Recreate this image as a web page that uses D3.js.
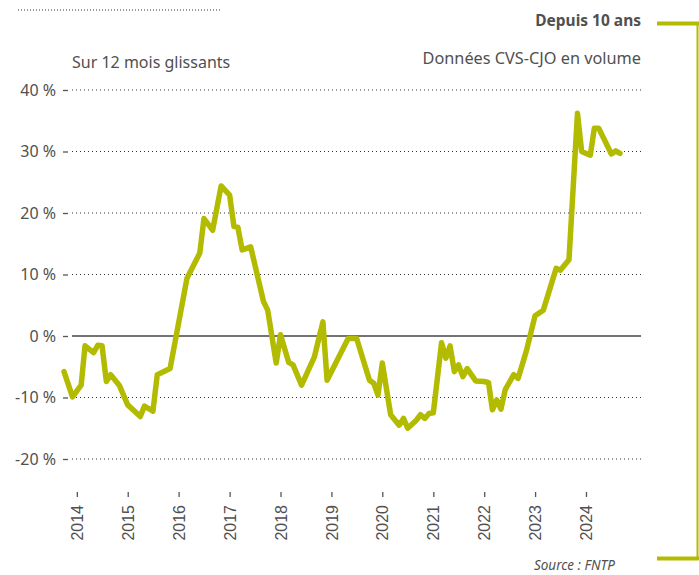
<!DOCTYPE html>
<html>
<head>
<meta charset="utf-8">
<script src="https://cdn.jsdelivr.net/npm/d3@7"></script>
<style>
  body { margin: 0; background: #fff; }
  svg text { font-family: "Noto Sans", sans-serif; fill: #505050; }
</style>
</head>
<body>
<script>
// monthly vertices of the 12-month rolling change (%)
var months = ['2013-10','2013-12','2014-02','2014-03','2014-05','2014-06','2014-07','2014-08','2014-09','2014-11',
  '2015-01','2015-04','2015-05','2015-07','2015-08','2015-11','2016-03','2016-06','2016-07','2016-09',
  '2016-11','2017-01','2017-02','2017-03','2017-04','2017-06','2017-09','2017-10','2017-12','2018-01',
  '2018-03','2018-04','2018-06','2018-09','2018-11','2018-12','2019-05','2019-07','2019-10','2019-11',
  '2019-12','2020-01','2020-03','2020-05','2020-06','2020-07','2020-09','2020-10','2020-11','2020-12',
  '2021-01','2021-03','2021-04','2021-05','2021-06','2021-07','2021-08','2021-09','2021-11','2022-01',
  '2022-02','2022-03','2022-04','2022-05','2022-06','2022-08','2022-09','2022-11','2023-01','2023-03',
  '2023-06','2023-07','2023-09','2023-11','2023-12','2024-02','2024-03','2024-04','2024-07','2024-08',
  '2024-09'];
var values = [-5.8,-9.9,-8.0,-1.6,-2.7,-1.5,-1.6,-7.4,-6.3,-8.0,
  -11.2,-13.1,-11.4,-12.2,-6.3,-5.3,9.4,13.5,19.1,17.2,
  24.4,22.9,17.8,17.7,14.0,14.5,5.6,4.2,-4.4,0.2,
  -4.3,-4.7,-8.0,-3.4,2.3,-7.2,-0.4,-0.4,-7.2,-7.7,
  -9.6,-4.4,-12.8,-14.5,-13.4,-15.0,-13.7,-12.8,-13.4,-12.6,
  -12.5,-1.1,-3.6,-1.6,-5.8,-4.7,-6.6,-5.3,-7.3,-7.4,
  -7.6,-12.0,-10.4,-11.9,-8.7,-6.3,-6.9,-2.3,3.3,4.2,
  11.0,10.7,12.4,36.2,30.0,29.4,33.8,33.8,29.6,30.1,
  29.7];
var yTicks = [-20, -10, 0, 10, 20, 30, 40];

var parse = d3.timeParse('%Y-%m');
var data = months.map(function (m, i) { return {date: parse(m), value: values[i]}; });

var w = 699, h = 575;
var green = '#b3bb00';

var svg = d3.select('body').append('svg')
    .attr('width', w)
    .attr('height', h);

var xScale = d3.scaleTime()
    .domain([parse('2013-10'), parse('2024-09')])
    .range([64, 620]);

var yScale = d3.scaleLinear()
    .domain([-20, 40])
    .range([459, 90]);

// gridlines
svg.selectAll('line.grid')
  .data(yTicks)
  .enter()
  .append('line')
  .attr('class', 'grid')
  .attr('x1', 72)
  .attr('x2', 641)
  .attr('y1', function (d) { return yScale(d); })
  .attr('y2', function (d) { return yScale(d); })
  .attr('stroke', function (d) { return d === 0 ? '#444' : '#333'; })
  .attr('stroke-width', function (d) { return d === 0 ? 1.6 : 1; })
  .attr('stroke-dasharray', function (d) { return d === 0 ? null : '1,3'; });

// y axis
var yAxis = d3.axisLeft(yScale)
    .tickValues(yTicks)
    .tickSize(5)
    .tickPadding(7)
    .tickFormat(function (d) { return d + ' %'; });

var gy = svg.append('g')
    .attr('transform', 'translate(68,0)')
    .call(yAxis);
gy.select('.domain').remove();
gy.selectAll('line').attr('stroke', '#555').attr('stroke-width', 1.3);
gy.selectAll('text')
    .style('font-size', '16px')
    .style('font-family', '"Noto Sans", sans-serif')
    .attr('fill', '#505050');

// x axis
var xAxis = d3.axisBottom(xScale)
    .ticks(d3.timeYear.every(1))
    .tickSize(5)
    .tickFormat(d3.timeFormat('%Y'));

var gx = svg.append('g')
    .attr('transform', 'translate(0,492)')
    .call(xAxis);
gx.select('.domain').remove();
gx.selectAll('line').attr('stroke', '#555').attr('stroke-width', 1.3);
gx.selectAll('text')
    .attr('transform', 'rotate(-90)')
    .attr('text-anchor', 'end')
    .attr('x', -13)
    .attr('y', 0)
    .attr('dy', '0.35em')
    .style('font-size', '16px')
    .style('font-family', '"Liberation Sans", Arial, sans-serif')
    .attr('fill', '#505050');

// the series
var line = d3.line()
    .x(function (d) { return xScale(d.date); })
    .y(function (d) { return yScale(d.value); });

svg.append('path')
  .datum(data)
  .attr('d', line)
  .attr('fill', 'none')
  .attr('stroke', green)
  .attr('stroke-width', 5.5)
  .attr('stroke-linejoin', 'round')
  .attr('stroke-linecap', 'round');

// titles
svg.append('text')
  .attr('x', 72).attr('y', 68)
  .style('font-size', '16px')
  .text('Sur 12 mois glissants');

svg.append('text')
  .attr('x', 641).attr('y', 26)
  .attr('text-anchor', 'end')
  .style('font-size', '15.5px')
  .style('font-weight', 'bold')
  .text('Depuis 10 ans');

svg.append('text')
  .attr('x', 641).attr('y', 64)
  .attr('text-anchor', 'end')
  .style('font-size', '16.3px')
  .text('Données CVS-CJO en volume');

svg.append('text')
  .attr('x', 615).attr('y', 570)
  .attr('text-anchor', 'end')
  .style('font-size', '13.5px')
  .style('font-style', 'italic')
  .text('Source : FNTP');

// decoration
svg.append('line')
  .attr('x1', 18).attr('x2', 220)
  .attr('y1', 10).attr('y2', 10)
  .attr('stroke', '#333')
  .attr('stroke-dasharray', '1,2');

svg.append('path')
  .attr('d', 'M657,23.5H697.5V558.5H657')
  .attr('fill', 'none')
  .attr('stroke', green)
  .attr('stroke-width', 2);
svg.append('line')
  .attr('x1', 657).attr('x2', 699).attr('y1', 23.5).attr('y2', 23.5)
  .attr('stroke', green).attr('stroke-width', 4);
svg.append('line')
  .attr('x1', 657).attr('x2', 699).attr('y1', 558.5).attr('y2', 558.5)
  .attr('stroke', green).attr('stroke-width', 4);
</script>
</body>
</html>
